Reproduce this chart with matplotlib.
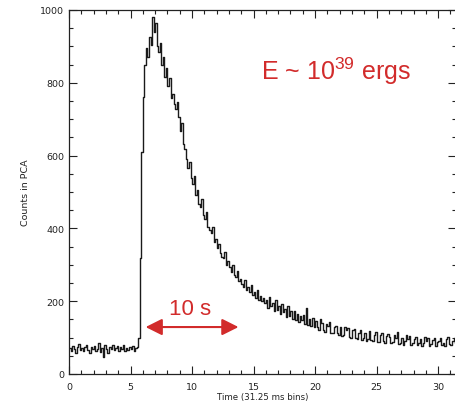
import numpy as np
import matplotlib
matplotlib.use("Agg")
import matplotlib.pyplot as plt
from matplotlib.ticker import MultipleLocator
from matplotlib.patches import FancyArrowPatch

# Light curve: PCA counts in 0.125 s bins starting at t = 0
bin_width = 0.125
counts = [
    # quiescent level before the burst
    72, 64, 78, 69, 58, 75, 83, 66, 71, 62,
    74, 80, 67, 59, 73, 68, 77, 63, 70, 84,
    61, 72, 48, 79, 70, 57, 74, 68, 81, 65,
    71, 76, 62, 73, 69, 80, 64, 72, 67, 75,
    70, 78, 63, 71, 74,
    # rise and peak
    98, 320, 610, 760, 850, 895, 870, 925, 905, 980,
    940, 965, 900, 885, 910, 850, 870, 815, 840,
    # decay
    790, 812, 758, 770, 742, 728, 748, 705, 668, 690, 632, 618, 590, 565, 582, 538,
    522, 545, 493, 505, 468, 460, 482, 438, 425, 446, 405, 396, 388, 404, 362, 372,
    345, 356, 332, 322, 318, 336, 300, 310, 294, 280, 300, 272, 266, 284, 256, 262,
    248, 238, 258, 232, 240, 224, 244, 218, 226, 210, 232, 204, 215, 200, 208, 195,
    204, 180, 212, 186, 194, 172, 202, 176, 188, 164, 192, 170, 178, 156, 186, 158,
    174, 150, 172, 148, 166, 144, 160, 147, 162, 136, 180, 134, 152, 132, 154, 128,
    146, 128, 120, 150, 140, 122, 116, 136, 133, 142, 114, 112, 130, 132, 112, 108,
    128, 104, 106, 130, 120, 126, 102, 100, 120, 124, 100, 96, 114, 120, 94, 100,
    114, 92, 96, 118, 94, 90, 108, 116, 88, 88, 106, 112, 92, 84, 104, 110,
    102, 84, 88, 108, 98, 116, 82, 86, 98, 80, 90, 106, 95, 104, 80, 84,
    96, 102, 79, 84, 96, 78, 86, 101, 92, 100, 77, 83, 93, 99, 76, 88,
    92, 98, 80, 84, 76, 95, 101, 83, 80, 92, 99, 86,
]

x_ticks = [0, 5, 10, 15, 20, 25, 30]
y_ticks = [0, 200, 400, 600, 800, 1000]
x_label = "Time (31.25 ms bins)"
y_label = "Counts in PCA"
energy_label = "E ~ 10$^{39}$ ergs"
duration_label = "10 s"

red = "#d22b2b"
plt.rcParams["mathtext.fontset"] = "custom"
plt.rcParams["mathtext.rm"] = "Liberation Sans"
plt.rcParams["mathtext.it"] = "Liberation Sans:italic"

fig = plt.figure(figsize=(4.56, 4.06), dpi=100)
ax = fig.add_axes([69 / 456, 1 - 375 / 406, 387 / 456, 364 / 406])

t_centers = (np.arange(len(counts)) + 0.5) * bin_width
ax.plot(t_centers, counts, drawstyle="steps-mid", color="#1a1a1a", lw=1.0)

ax.set_xlim(0, 31.45)
ax.set_ylim(0, 1000)
ax.set_xticks(x_ticks)
ax.set_yticks(y_ticks)
ax.xaxis.set_minor_locator(MultipleLocator(1))
ax.yaxis.set_minor_locator(MultipleLocator(50))
ax.tick_params(which="both", direction="in", top=True, right=True, width=0.8,
               labelsize=6.8, colors="#222222")
ax.tick_params(which="major", length=6)
ax.tick_params(which="minor", length=3)
ax.tick_params(axis="x", pad=5.5)
ax.tick_params(axis="y", pad=3.5)
for s in ax.spines.values():
    s.set_linewidth(0.9)
    s.set_color("#222222")

ax.set_xlabel(x_label, fontsize=6.2, color="#222222", labelpad=1)
ax.set_ylabel(y_label, fontsize=6.8, color="#222222")
ax.yaxis.set_label_coords(-0.102, 0.5)

ax.text(21.7, 835, energy_label, color=red, fontsize=18,
        family="Liberation Sans", ha="center", va="center")
ax.text(9.8, 180, duration_label, color=red, fontsize=16,
        family="Liberation Sans", ha="center", va="center")
arrow = FancyArrowPatch((6.0, 129), (14.0, 129),
                        arrowstyle="<|-|>,head_length=1.0,head_width=0.5",
                        mutation_scale=10, color=red, lw=1.5)
ax.add_patch(arrow)

fig.savefig("out.png", dpi=100)
